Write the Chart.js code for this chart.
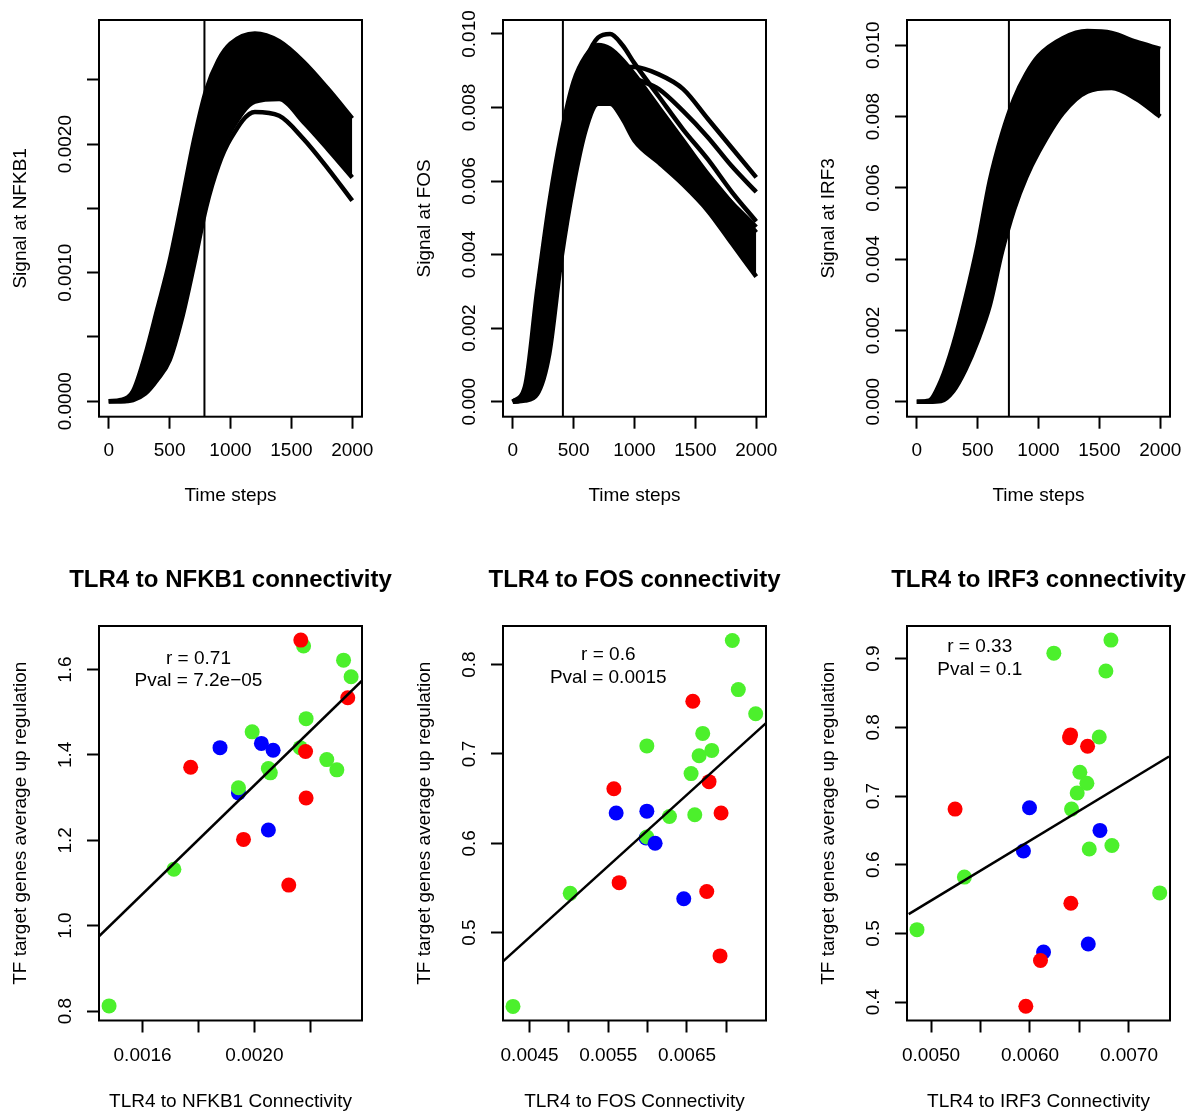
<!DOCTYPE html>
<html>
<head>
<meta charset="utf-8">
<script src="https://cdn.jsdelivr.net/npm/chart.js@4.4.0/dist/chart.umd.min.js"></script>
<style>
  html, body { margin: 0; padding: 0; background: #fff; overflow: hidden; }
  body { width: 1187px; height: 1112px; position: relative; }
  canvas { position: absolute; }
</style>
</head>
<body>
<canvas id="nfkb-signal"></canvas>
<canvas id="fos-signal"></canvas>
<canvas id="irf-signal"></canvas>
<canvas id="nfkb-conn"></canvas>
<canvas id="fos-conn"></canvas>
<canvas id="irf-conn"></canvas>
<script>
// ---- time course data (top row) ----
const timeSteps = [0, 100, 200, 300, 400, 500, 600, 700, 800, 900, 1000, 1200, 1400, 1600, 1800, 2000];
const timeTicks = [0, 500, 1000, 1500, 2000];
const timeTickLabels = ["0", "500", "1000", "1500", "2000"];

const nfkbUpper = [0, 0.00001, 0.00008, 0.00036, 0.00072, 0.00109, 0.00155, 0.00203, 0.00242, 0.00265, 0.00278, 0.00286, 0.0028, 0.00264, 0.00243, 0.0022];
const nfkbBandLow = [0, 0, 0.00002, 0.00008, 0.0002, 0.0004, 0.00075, 0.00117, 0.0016, 0.0019, 0.0021, 0.00233, 0.00235, 0.00217, 0.00196, 0.00174];
const nfkbLowest = [0, 0, 0.00001, 0.00006, 0.00017, 0.00032, 0.00064, 0.00106, 0.00151, 0.00183, 0.00204, 0.00225, 0.00222, 0.00204, 0.00181, 0.00156];
const nfkbCutoff = 786;
const nfkbYTicks = [0, 0.0005, 0.001, 0.0015, 0.002, 0.0025];
const nfkbYLabels = ["0.0000", "", "0.0010", "", "0.0020", ""];

const fosUpper = [0, 0.0004, 0.003, 0.0054, 0.0073, 0.0087, 0.0094, 0.0097, 0.0096, 0.0093, 0.0089, 0.008, 0.0071, 0.0062, 0.0054, 0.0046];
const fosLower = [0, 0.00003, 0.0002, 0.0013, 0.0039, 0.0059, 0.0074, 0.0081, 0.0081, 0.0077, 0.0071, 0.0065, 0.0059, 0.0052, 0.0043, 0.0034];
const fosPeak = [0, 0.0002, 0.002, 0.0043, 0.0065, 0.0082, 0.0093, 0.0099, 0.01, 0.0097, 0.0092, 0.0083, 0.0074, 0.0066, 0.0057, 0.0049];
const fosMid = [0, 0.0003, 0.0025, 0.0049, 0.007, 0.0084, 0.0092, 0.0094, 0.0092, 0.0088, 0.0084, 0.0076, 0.0068, 0.0061, 0.0054, 0.00475];
const fosSlow = [0, 0.0001, 0.0012, 0.0032, 0.0052, 0.0068, 0.0079, 0.0086, 0.009, 0.0091, 0.0091, 0.0089, 0.0085, 0.0077, 0.0069, 0.0061];
const fosSlow2 = [0, 0.0001, 0.0013, 0.0034, 0.0055, 0.0071, 0.0082, 0.0088, 0.009, 0.009, 0.0088, 0.0085, 0.0079, 0.0072, 0.0064, 0.0057];
const fosCutoff = 412;
const fosYTicks = [0, 0.002, 0.004, 0.006, 0.008, 0.01];
const fosYLabels = ["0.000", "0.002", "0.004", "0.006", "0.008", "0.010"];

const irfUpper = [0, 0.00003, 0.0006, 0.0016, 0.0029, 0.0044, 0.0062, 0.0075, 0.0085, 0.0092, 0.0097, 0.0102, 0.0104, 0.01035, 0.0101, 0.0099];
const irfLower = [0, 0, 0.00002, 0.0003, 0.0009, 0.0017, 0.0027, 0.0042, 0.0054, 0.0063, 0.007, 0.0081, 0.0087, 0.0088, 0.0085, 0.008];
const irfCutoff = 757;
const irfYTicks = fosYTicks;
const irfYLabels = fosYLabels;

// ---- connectivity data (bottom row) ----
const nfkbConn = [0.00148, 0.001712, 0.001772, 0.001877, 0.001943, 0.001943, 0.001961, 0.001992, 0.002025, 0.002067, 0.00205, 0.00205, 0.002057, 0.002123, 0.002176, 0.002166, 0.002164, 0.002183, 0.002185, 0.002185, 0.002259, 0.002295, 0.002319, 0.002346, 0.002334];
const nfkbUp = [0.812, 1.132, 1.371, 1.417, 1.311, 1.323, 1.202, 1.454, 1.427, 1.411, 1.224, 1.368, 1.358, 1.095, 1.655, 1.669, 1.417, 1.408, 1.485, 1.299, 1.389, 1.365, 1.622, 1.583, 1.534];
const nfkbGroup = ["g", "g", "r", "b", "b", "g", "r", "g", "b", "b", "b", "g", "g", "r", "g", "r", "g", "r", "g", "r", "g", "g", "g", "g", "r"];
const nfkbFitX = [0.001444, 0.002385];
const nfkbFitY = [0.975, 1.574];
const nfkbXTicks = [0.0016, 0.0018, 0.002, 0.0022];
const nfkbXLabels = ["0.0016", "", "0.0020", ""];
const nfkbUpTicks = [0.8, 1.0, 1.2, 1.4, 1.6];
const nfkbUpLabels = ["0.8", "1.0", "1.2", "1.4", "1.6"];

const fosConn = [0.004289, 0.005016, 0.005571, 0.0056, 0.005638, 0.00599, 0.00599, 0.00598, 0.00599, 0.006095, 0.006277, 0.006459, 0.006552, 0.006574, 0.006599, 0.006654, 0.0067, 0.006751, 0.00678, 0.006815, 0.00692, 0.006933, 0.007076, 0.007152, 0.007373];
const fosUp = [0.4175, 0.544, 0.661, 0.634, 0.556, 0.709, 0.636, 0.606, 0.607, 0.6, 0.63, 0.538, 0.678, 0.759, 0.632, 0.698, 0.723, 0.546, 0.669, 0.704, 0.474, 0.634, 0.827, 0.772, 0.745];
const fosGroup = ["g", "g", "r", "b", "r", "g", "b", "b", "g", "b", "g", "b", "g", "r", "g", "g", "g", "r", "r", "g", "r", "r", "g", "g", "g"];
const fosFitX = [0.004162, 0.007504];
const fosFitY = [0.4678, 0.7345];
const fosXTicks = [0.0045, 0.005, 0.0055, 0.006, 0.0065, 0.007];
const fosXLabels = ["0.0045", "", "0.0055", "", "0.0065", ""];
const fosUpTicks = [0.5, 0.6, 0.7, 0.8];
const fosUpLabels = ["0.5", "0.6", "0.7", "0.8"];

const irfConn = [0.004858, 0.005243, 0.005337, 0.005934, 0.005958, 0.005995, 0.006137, 0.006106, 0.006241, 0.0064, 0.00641, 0.006413, 0.00642, 0.006477, 0.006504, 0.006575, 0.006582, 0.006589, 0.006599, 0.0067, 0.006707, 0.006767, 0.006818, 0.006828, 0.007311];
const irfUp = [0.5055, 0.681, 0.582, 0.62, 0.394, 0.683, 0.4729, 0.4606, 0.908, 0.785, 0.789, 0.544, 0.681, 0.7045, 0.7347, 0.7187, 0.7725, 0.4847, 0.623, 0.786, 0.65, 0.882, 0.927, 0.628, 0.559];
const irfGroup = ["g", "r", "g", "b", "r", "b", "b", "r", "g", "r", "r", "r", "g", "g", "g", "g", "r", "b", "g", "g", "b", "g", "g", "g", "g"];
const irfFitX = [0.004774, 0.007405];
const irfFitY = [0.5281, 0.7576];
const irfXTicks = [0.005, 0.0055, 0.006, 0.0065, 0.007];
const irfXLabels = ["0.0050", "", "0.0060", "", "0.0070"];
const irfUpTicks = [0.4, 0.5, 0.6, 0.7, 0.8, 0.9];
const irfUpLabels = ["0.4", "0.5", "0.6", "0.7", "0.8", "0.9"];

const groupColors = { r: "#ff0000", g: "#4cf02c", b: "#0000ff" };

// ---- layout ----
const columns = [[99, 362], [503, 766], [907, 1169.5]];
const FONT = '"Liberation Sans", Arial, Helvetica, sans-serif';
Chart.defaults.font.family = FONT;
Chart.defaults.color = "#000";

const plotBox = {
  id: "plotBox",
  afterDraw(chart) {
    const { ctx, chartArea: a } = chart;
    ctx.save();
    ctx.strokeStyle = "#000";
    ctx.lineWidth = 2;
    ctx.strokeRect(a.left, a.top, a.right - a.left, a.bottom - a.top);
    ctx.restore();
  },
};

// y tick labels are drawn turned, like R's default las=0
const rotatedYTicks = {
  id: "rotatedYTicks",
  afterDraw(chart, args, opts) {
    const { ctx, chartArea } = chart;
    const scale = chart.scales.y;
    ctx.save();
    ctx.fillStyle = "#000";
    ctx.font = "19px " + FONT;
    ctx.textAlign = "center";
    ctx.textBaseline = "middle";
    opts.values.forEach((v, i) => {
      if (!opts.labels[i]) return;
      ctx.save();
      ctx.translate(chartArea.left - 33.5, scale.getPixelForValue(v));
      ctx.rotate(-Math.PI / 2);
      ctx.fillText(opts.labels[i], 0, 0);
      ctx.restore();
    });
    ctx.restore();
  },
};

// main title centred over the plot box (R's main=)
const panelTitle = {
  id: "panelTitle",
  afterDraw(chart, args, opts) {
    if (!opts.text) return;
    const { ctx, chartArea: a } = chart;
    ctx.save();
    ctx.fillStyle = "#000";
    ctx.font = "bold 24px " + FONT;
    ctx.textAlign = "center";
    ctx.textBaseline = "middle";
    ctx.fillText(opts.text, (a.left + a.right) / 2, opts.y);
    ctx.restore();
  },
};

const corrText = {
  id: "corrText",
  afterDatasetsDraw(chart, args, opts) {
    if (!opts.items) return;
    const { ctx, scales } = chart;
    ctx.save();
    ctx.fillStyle = "#000";
    ctx.font = "19px " + FONT;
    ctx.textAlign = "center";
    ctx.textBaseline = "middle";
    for (const item of opts.items) {
      ctx.fillText(item.text, scales.x.getPixelForValue(item.x), scales.y.getPixelForValue(item.y));
    }
    ctx.restore();
  },
};

const gridOpts = { drawOnChartArea: false, tickLength: 12, tickWidth: 2, tickColor: "#000" };

function xAxis(range, ticks, labels, title, height, tickPad, titlePad) {
  return {
    type: "linear",
    min: range[0],
    max: range[1],
    afterBuildTicks: (s) => { s.ticks = ticks.map((v) => ({ value: v })); },
    afterFit: (s) => { s.height = height; },
    ticks: {
      autoSkip: false, maxRotation: 0, minRotation: 0, padding: tickPad,
      font: { size: 19, lineHeight: 1 }, color: "#000",
      callback: (v, i) => labels[i],
    },
    grid: gridOpts,
    border: { display: false },
    title: { display: true, text: title, color: "#000", font: { size: 19, lineHeight: 1 }, padding: { top: 0, bottom: titlePad } },
  };
}

function yAxis(range, ticks, labels, title) {
  return {
    type: "linear",
    min: range[0],
    max: range[1],
    afterBuildTicks: (s) => { s.ticks = ticks.map((v) => ({ value: v })); },
    afterFit: (s) => { s.width = 99; },
    ticks: { display: false, callback: (v, i) => labels[i] },
    grid: gridOpts,
    border: { display: false },
    title: { display: true, text: title, color: "#000", font: { size: 19, lineHeight: 1 }, padding: { top: 11, bottom: 0 } },
  };
}

function placeCanvas(id, col, top, height) {
  const [L, R] = columns[col];
  const canvas = document.getElementById(id);
  canvas.width = Math.round(R - L + 198);
  canvas.height = height;
  canvas.style.left = (L - 99) + "px";
  canvas.style.top = top + "px";
  return canvas;
}

function toPoints(xs, ys) {
  return xs.map((x, i) => ({ x: x, y: ys[i] }));
}

function curve(values, extra) {
  return Object.assign({
    data: toPoints(timeSteps, values),
    borderColor: "#000",
    backgroundColor: "#000",
    borderWidth: 4.5,
    pointRadius: 0,
    cubicInterpolationMode: "monotone",
    fill: false,
  }, extra || {});
}

function signalChart(id, col, cfg) {
  const canvas = placeCanvas(id, col, 0, 520);
  const datasets = [
    {
      data: [{ x: cfg.cutoff, y: cfg.yRange[0] }, { x: cfg.cutoff, y: cfg.yRange[1] }],
      borderColor: "#000", borderWidth: 2, pointRadius: 0, fill: false,
    },
    curve(cfg.upper, { fill: "+1" }),
    curve(cfg.lower),
  ].concat(cfg.extra.map((c) => curve(c)));

  new Chart(canvas, {
    type: "line",
    data: { datasets },
    options: {
      responsive: false,
      animation: false,
      events: [],
      layout: { padding: { top: 20, left: 0, right: 99, bottom: 0 } },
      plugins: {
        legend: { display: false },
        tooltip: { enabled: false },
        rotatedYTicks: { values: cfg.yTicks, labels: cfg.yLabels },
      },
      scales: {
        x: xAxis([-80, 2080], timeTicks, timeTickLabels, "Time steps", 520 - 416.7, 13, 14.5),
        y: yAxis(cfg.yRange, cfg.yTicks, cfg.yLabels, cfg.yTitle),
      },
    },
    plugins: [plotBox, rotatedYTicks],
  });
}

function connectivityChart(id, col, cfg) {
  const canvas = placeCanvas(id, col, 540, 572);
  new Chart(canvas, {
    type: "scatter",
    data: {
      datasets: [
        {
          data: toPoints(cfg.fitX, cfg.fitY),
          showLine: true, borderColor: "#000", borderWidth: 2.5, pointRadius: 0,
        },
        {
          data: toPoints(cfg.xs, cfg.ys),
          pointRadius: 7.5,
          pointBorderWidth: 0,
          pointBackgroundColor: cfg.groups.map((g) => groupColors[g]),
          pointBorderColor: cfg.groups.map((g) => groupColors[g]),
        },
      ],
    },
    options: {
      responsive: false,
      animation: false,
      events: [],
      layout: { padding: { top: 86, left: 0, right: 99, bottom: 0 } },
      plugins: {
        legend: { display: false },
        tooltip: { enabled: false },
        panelTitle: { text: cfg.title, y: 40.5 },
        rotatedYTicks: { values: cfg.yTicks, labels: cfg.yLabels },
        corrText: { items: cfg.notes },
      },
      scales: {
        x: xAxis(cfg.xRange, cfg.xTicks, cfg.xLabels, cfg.xTitle, 572 - 480.5, 14, 0.5),
        y: yAxis(cfg.yRange, cfg.yTicks, cfg.yLabels, "TF target genes average up regulation"),
      },
    },
    plugins: [plotBox, rotatedYTicks, corrText, panelTitle],
  });
}

signalChart("nfkb-signal", 0, {
  upper: nfkbUpper, lower: nfkbBandLow, extra: [nfkbLowest],
  cutoff: nfkbCutoff, yRange: [-0.00012, 0.002965],
  yTicks: nfkbYTicks, yLabels: nfkbYLabels, yTitle: "Signal at NFKB1",
});
signalChart("fos-signal", 1, {
  upper: fosUpper, lower: fosLower, extra: [fosPeak, fosMid, fosSlow, fosSlow2],
  cutoff: fosCutoff, yRange: [-0.00041, 0.01038],
  yTicks: fosYTicks, yLabels: fosYLabels, yTitle: "Signal at FOS",
});
signalChart("irf-signal", 2, {
  upper: irfUpper, lower: irfLower, extra: [],
  cutoff: irfCutoff, yRange: [-0.00042, 0.01071],
  yTicks: irfYTicks, yLabels: irfYLabels, yTitle: "Signal at IRF3",
});

connectivityChart("nfkb-conn", 0, {
  title: "TLR4 to NFKB1 connectivity", xTitle: "TLR4 to NFKB1 Connectivity",
  xs: nfkbConn, ys: nfkbUp, groups: nfkbGroup, fitX: nfkbFitX, fitY: nfkbFitY,
  xRange: [0.001444, 0.002385], yRange: [0.7778, 1.702],
  xTicks: nfkbXTicks, xLabels: nfkbXLabels, yTicks: nfkbUpTicks, yLabels: nfkbUpLabels,
  notes: [{ text: "r = 0.71", x: 0.0018, y: 1.626 }, { text: "Pval = 7.2e\u221205", x: 0.0018, y: 1.573 }],
});
connectivityChart("fos-conn", 1, {
  title: "TLR4 to FOS connectivity", xTitle: "TLR4 to FOS Connectivity",
  xs: fosConn, ys: fosUp, groups: fosGroup, fitX: fosFitX, fitY: fosFitY,
  xRange: [0.004162, 0.007504], yRange: [0.4017, 0.8432],
  xTicks: fosXTicks, xLabels: fosXLabels, yTicks: fosUpTicks, yLabels: fosUpLabels,
  notes: [{ text: "r = 0.6", x: 0.0055, y: 0.8105 }, { text: "Pval = 0.0015", x: 0.0055, y: 0.7858 }],
});
connectivityChart("irf-conn", 2, {
  title: "TLR4 to IRF3 connectivity", xTitle: "TLR4 to IRF3 Connectivity",
  xs: irfConn, ys: irfUp, groups: irfGroup, fitX: irfFitX, fitY: irfFitY,
  xRange: [0.004757, 0.007415], yRange: [0.3733, 0.9475],
  xTicks: irfXTicks, xLabels: irfXLabels, yTicks: irfUpTicks, yLabels: irfUpLabels,
  notes: [{ text: "r = 0.33", x: 0.005492, y: 0.918 }, { text: "Pval = 0.1", x: 0.005492, y: 0.8837 }],
});
</script>
</body>
</html>
